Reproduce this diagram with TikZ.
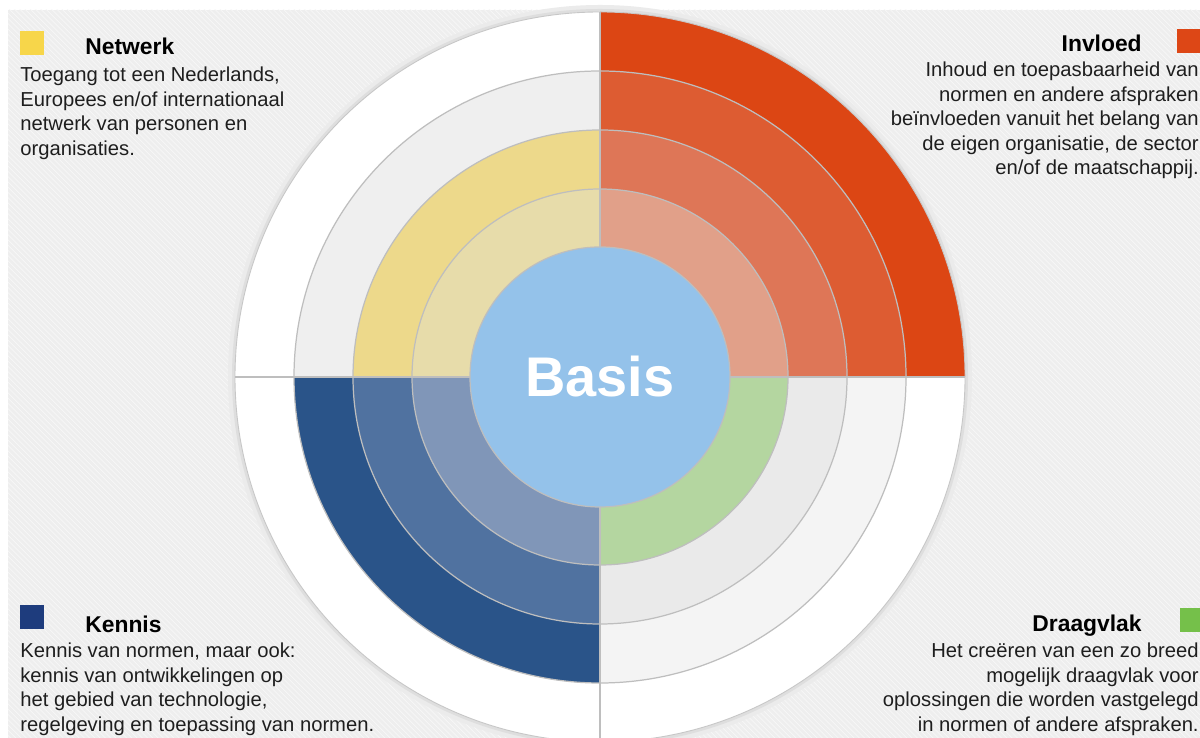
\documentclass[tikz,border=0pt]{standalone}
\usepackage{fontspec}
\setmainfont{Liberation Sans}
\usetikzlibrary{positioning,patterns}
\definecolor{P}{RGB}{238,238,238}
\definecolor{S}{RGB}{247,247,247}
\definecolor{L}{RGB}{190,190,190}
\definecolor{T}{RGB}{30,30,30}
\definecolor{Ysq}{RGB}{247,214,74}
\definecolor{Y1}{RGB}{237,217,139}
\definecolor{Y2}{RGB}{231,220,170}
\definecolor{Rsq}{RGB}{221,71,22}
\definecolor{R1}{RGB}{220,70,20}
\definecolor{R2}{RGB}{221,92,50}
\definecolor{R3}{RGB}{222,118,87}
\definecolor{R4}{RGB}{225,160,137}
\definecolor{Ksq}{RGB}{30,60,125}
\definecolor{K1}{RGB}{42,84,137}
\definecolor{K2}{RGB}{80,114,160}
\definecolor{K3}{RGB}{128,150,184}
\definecolor{Dsq}{RGB}{117,192,74}
\definecolor{D1}{RGB}{180,214,160}
\definecolor{G0}{RGB}{239,239,239}
\definecolor{G1}{RGB}{234,234,234}
\definecolor{G2}{RGB}{244,244,244}
\definecolor{B}{RGB}{148,194,234}
\tikzstyle{legsq} = [minimum width=0.48cm, minimum height=0.48cm, inner sep=0]
\tikzstyle{legtitle} = [font=\fontsize{13pt}{15pt}\selectfont\bfseries, text=black, inner sep=0]
\tikzstyle{legtext} = [font=\fontsize{11.5pt}{13.9pt}\selectfont, text=T, inner sep=0]
\tikzstyle{ringline} = [draw=L, line width=0.7pt]
\newcommand{\pieslice}[4]{\fill[#1] (c) -- ++(#2:#4) arc[start angle=#2, end angle=#3, radius=#4] -- cycle;}

\begin{document}
\begin{tikzpicture}
  \useasboundingbox (0,0) rectangle (24,14.76);
  \fill[white] (0,0) rectangle (24,14.76);
  \fill[P] (0.16,0) rectangle (24,14.56);
  \fill[pattern=north west lines, pattern color=S] (0.16,0) rectangle (24,14.56);

  \coordinate (c) at (12,7.22);
  % schaduw en witte schijf
  \fill[black!8]  (c) circle (7.44);
  \fill[black!13] (c) circle (7.36);
  \fill[white]    (c) circle (7.3);

  % ringen, van buiten naar binnen
  \pieslice{R1}{0}{90}{7.3}
  \fill[G0] (c) circle (6.12);
  \pieslice{R2}{0}{90}{6.12}
  \pieslice{K1}{180}{270}{6.12}
  \pieslice{G2}{270}{360}{6.12}
  \pieslice{R3}{0}{90}{4.94}
  \pieslice{Y1}{90}{180}{4.94}
  \pieslice{K2}{180}{270}{4.94}
  \pieslice{G1}{270}{360}{4.94}
  \pieslice{R4}{0}{90}{3.76}
  \pieslice{Y2}{90}{180}{3.76}
  \pieslice{K3}{180}{270}{3.76}
  \pieslice{D1}{270}{360}{3.76}

  \draw[draw=black!22, line width=0.5pt] (c) circle (7.3);
  \draw[ringline] (c) circle (6.12);
  \draw[ringline] (c) circle (4.94);
  \draw[ringline] (c) circle (3.76);
  \draw[ringline] (c) ++(0,7.3) -- ++(0,-14.6);
  \draw[ringline] (c) ++(-7.3,0) -- ++(14.6,0);

  \node[circle, fill=B, draw=L, line width=0.7pt, minimum size=5.2cm, inner sep=0,
        font=\fontsize{31.8pt}{36pt}\selectfont\bfseries, text=white] (basis) at (c) {Basis};

  % Netwerk
  \node[legsq, fill=Ysq]                        (netsq)   at (0.64,13.9) {};
  \node[legtitle, anchor=base west]             (net)     at (1.7,13.66) {Netwerk};
  \node[legtext, anchor=north west, align=left] (nettext) at (0.4,13.42)
    {Toegang tot een Nederlands,\\Europees en/of internationaal\\netwerk van personen en\\organisaties.};

  % Invloed
  \node[legsq, fill=Rsq, minimum width=0.46cm]   (invsq)   at (23.77,13.94) {};
  \node[legtitle, anchor=base east]              (inv)     at (22.84,13.72) {Invloed};
  \node[legtext, anchor=north east, align=right] (invtext) at (23.98,13.52)
    {Inhoud en toepasbaarheid van\\normen en andere afspraken\\beïnvloeden vanuit het belang van\\de eigen organisatie, de sector\\en/of de maatschappij.};

  % Kennis
  \node[legsq, fill=Ksq]                        (kensq)   at (0.64,2.42) {};
  \node[legtitle, anchor=base west]             (ken)     at (1.7,2.1) {Kennis};
  \node[legtext, anchor=north west, align=left] (kentext) at (0.4,1.9)
    {Kennis van normen, maar ook:\\kennis van ontwikkelingen op\\het gebied van technologie,\\regelgeving en toepassing van normen.};

  % Draagvlak
  \node[legsq, fill=Dsq, minimum width=0.4cm]    (drasq)   at (23.8,2.36) {};
  \node[legtitle, anchor=base east]              (dra)     at (22.84,2.12) {Draagvlak};
  \node[legtext, anchor=north east, align=right] (dratext) at (23.98,1.9)
    {Het creëren van een zo breed\\mogelijk draagvlak voor\\oplossingen die worden vastgelegd\\in normen of andere afspraken.};
\end{tikzpicture}
\end{document}
